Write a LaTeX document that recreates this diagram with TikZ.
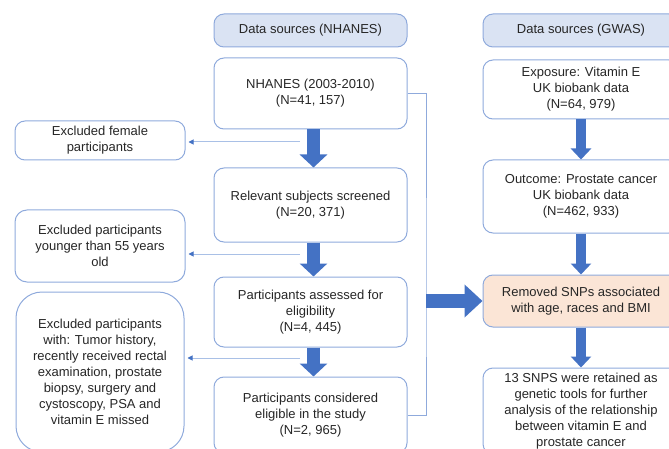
\documentclass[tikz,border=0pt]{standalone}
\usepackage{fontspec}
\setmainfont{Liberation Sans}
\usetikzlibrary{arrows.meta,positioning}
\definecolor{boxline}{HTML}{8FAADC}
\definecolor{headfill}{HTML}{DAE3F3}
\definecolor{peach}{HTML}{FBE5D6}
\definecolor{arrowblue}{HTML}{4472C4}
\definecolor{thinblue}{HTML}{A9C0E6}
\definecolor{txt}{HTML}{262626}

\begin{document}
\begin{tikzpicture}[
    x=1pt, y=-1pt,
    block/.style={
        rectangle,
        draw=boxline,
        line width=1pt,
        rounded corners=10pt,
        align=center,
        inner sep=3pt,
        minimum width=193pt,
        text=txt,
        font=\fontsize{13}{16}\selectfont
    },
    headblock/.style={
        block,
        fill=headfill,
        minimum height=33pt
    },
    exblock/.style={
        block,
        minimum width=170pt
    },
    bigarrow/.style={
        arrowblue,
        line width=13pt,
        -{Triangle[length=13pt,width=27pt]}
    },
    thinarrow/.style={
        thinblue,
        line width=1pt,
        -{Triangle[length=5pt,width=5pt,color=arrowblue]},
        shorten >=3pt
    },
    bracketline/.style={
        boxline,
        line width=1pt
    }
]
\useasboundingbox (0,0) rectangle (669,449);
\clip (0,0) rectangle (669,449);

% NHANES column
\node[headblock] (hN) at (310.5,30.5) {Data sources (NHANES)};
\node[block, minimum height=71pt, below=10pt of hN] (nh) {NHANES (2003-2010)\\(N=41, 157)};
\node[block, minimum height=74pt, below=38pt of nh] (rel) {Relevant subjects screened\\(N=20, 371)};
\node[block, minimum height=70pt, below=34pt of rel] (ass) {Participants assessed for\\eligibility\\(N=4, 445)};
\node[block, minimum height=76pt, below=29pt of ass] (con) {Participants considered\\eligible in the study\\(N=2, 965)};

% excluded participants
\node[exblock, minimum height=39pt] (exF) at (100,140.5) {Excluded female\\participants};
\node[exblock, minimum height=72pt, rounded corners=12pt] (exY) at (100,246) {Excluded participants\\younger than 55 years\\old};
\node[exblock, minimum height=160pt, minimum width=168pt, rounded corners=26pt] (exT) at (100,372) {Excluded participants\\with: Tumor history,\\recently received rectal\\examination, prostate\\biopsy, surgery and\\cystoscopy, PSA and\\vitamin E missed};

% GWAS column
\node[headblock, minimum width=196pt] (hG) at (581,30.5) {Data sources (GWAS)};
\node[block, minimum width=196pt, minimum height=59pt, below=12pt of hG] (exp) {Exposure: Vitamin E\\UK biobank data\\(N=64, 979)};
\node[block, minimum width=196pt, minimum height=73pt, below=40pt of exp] (out) {Outcome: Prostate cancer\\UK biobank data\\(N=462, 933)};
\node[block, minimum width=196pt, minimum height=52pt, fill=peach, below=41pt of out] (rem) {Removed SNPs associated\\with age, races and BMI};
\node[block, minimum width=196pt, minimum height=86pt, below=40pt of rem] (snp) {13 SNPS were retained as\\genetic tools for further\\analysis of the relationship\\between vitamin E and\\prostate cancer};

\coordinate (b1) at (300,142);
\coordinate (b2) at (300,254);
\coordinate (b3) at (300,358);
\coordinate (br) at (426,300);

% main flow
\draw[bigarrow] ([xshift=3pt]nh.south) -- ([xshift=3pt]rel.north);
\draw[bigarrow] ([xshift=3pt]rel.south) -- ([xshift=3pt]ass.north);
\draw[bigarrow] ([xshift=3pt]ass.south) -- ([xshift=3pt]con.north);

% exclusions
\draw[thinarrow] (b1) -- (b1 -| exF.east);
\draw[thinarrow] (b2) -- (b2 -| exY.east);
\draw[thinarrow] (b3) -- (b3 -| exT.east);

% NHANES into MR
\draw[bracketline] (nh.east) -| (br) |- (con.east);
\draw[bigarrow, line width=14pt, -{Triangle[length=18pt,width=32pt]}] (br |- rem.west) -- (rem.west);

% GWAS flow
\draw[bigarrow, line width=10pt, -{Triangle[length=11pt,width=20pt]}] (exp) -- (out);
\draw[bigarrow, line width=10pt, -{Triangle[length=11pt,width=20pt]}] (out) -- (rem);
\draw[bigarrow, line width=10pt, -{Triangle[length=11pt,width=20pt]}] (rem) -- (snp);

\end{tikzpicture}
\end{document}
